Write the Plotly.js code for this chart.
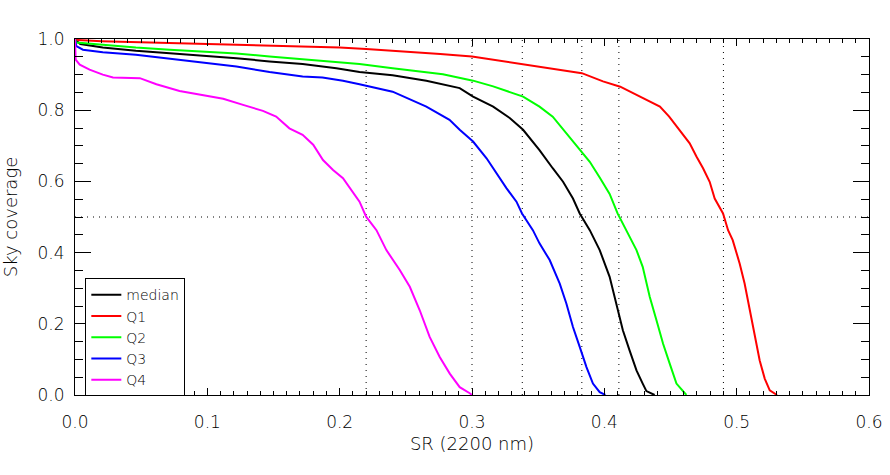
<!DOCTYPE html>
<html>
<head>
<meta charset="utf-8">
<script src="https://cdn.plot.ly/plotly-3.0.1.min.js"></script>
<style>
  body { margin: 0; background: #fff; }
  #plot { width: 890px; height: 475px; }
</style>
</head>
<body>
<div id="plot"></div>
<script>
// values
const seriesNames = ['median', 'Q1', 'Q2', 'Q3', 'Q4'];
const seriesColors = ['#000000', '#ff0000', '#00ff00', '#0000ff', '#ff00ff'];

const medianX = [0, 0.004, 0.021, 0.046, 0.0716, 0.097, 0.122, 0.147, 0.172, 0.1975, 0.215, 0.24, 0.2655, 0.2907, 0.3008, 0.316, 0.3285, 0.3386, 0.351, 0.361, 0.3688, 0.3763, 0.3814, 0.389, 0.3965, 0.404, 0.409, 0.414, 0.419, 0.4243, 0.429, 0.4318, 0.438];
const medianY = [0.998, 0.986, 0.976, 0.967, 0.960, 0.954, 0.946, 0.937, 0.930, 0.918, 0.907, 0.898, 0.883, 0.862, 0.838, 0.810, 0.778, 0.745, 0.688, 0.637, 0.599, 0.552, 0.510, 0.463, 0.407, 0.332, 0.257, 0.182, 0.126, 0.069, 0.032, 0.011, 0];

const q1X = [0, 0.002, 0.02, 0.06, 0.10, 0.14, 0.17, 0.20, 0.22, 0.25, 0.276, 0.30, 0.338, 0.366, 0.383, 0.399, 0.412, 0.427, 0.442, 0.449, 0.457, 0.4645, 0.4696, 0.4746, 0.4796, 0.4834, 0.4897, 0.4935, 0.497, 0.5023, 0.506, 0.510, 0.5136, 0.5174, 0.5212, 0.525, 0.5305];
const q1Y = [1.0, 0.997, 0.994, 0.990, 0.987, 0.984, 0.981, 0.976, 0.972, 0.965, 0.958, 0.951, 0.930, 0.913, 0.904, 0.881, 0.866, 0.838, 0.810, 0.782, 0.745, 0.707, 0.670, 0.637, 0.599, 0.552, 0.510, 0.463, 0.435, 0.369, 0.313, 0.238, 0.163, 0.097, 0.046, 0.013, 0];

const q2X = [0, 0.001, 0.021, 0.046, 0.0716, 0.097, 0.122, 0.147, 0.172, 0.1975, 0.215, 0.24, 0.278, 0.3008, 0.316, 0.3386, 0.351, 0.361, 0.3713, 0.3814, 0.389, 0.3965, 0.404, 0.410, 0.4167, 0.4243, 0.429, 0.4343, 0.4394, 0.4444, 0.4494, 0.4545, 0.462];
const q2Y = [1.0, 0.990, 0.984, 0.976, 0.970, 0.965, 0.959, 0.951, 0.944, 0.937, 0.930, 0.918, 0.901, 0.883, 0.867, 0.838, 0.810, 0.782, 0.735, 0.688, 0.655, 0.611, 0.565, 0.510, 0.463, 0.407, 0.360, 0.276, 0.210, 0.144, 0.088, 0.032, 0];

const q3X = [0, 0.001, 0.006, 0.021, 0.046, 0.0716, 0.097, 0.122, 0.147, 0.172, 0.187, 0.2025, 0.215, 0.24, 0.2655, 0.283, 0.2907, 0.3008, 0.311, 0.3184, 0.326, 0.3336, 0.3378, 0.346, 0.351, 0.3587, 0.3663, 0.3713, 0.3763, 0.3814, 0.3865, 0.3914, 0.3965, 0.4008];
const q3Y = [1.0, 0.980, 0.970, 0.963, 0.956, 0.945, 0.932, 0.923, 0.907, 0.895, 0.892, 0.883, 0.873, 0.852, 0.810, 0.773, 0.745, 0.712, 0.665, 0.623, 0.581, 0.543, 0.510, 0.463, 0.426, 0.379, 0.313, 0.257, 0.191, 0.135, 0.0785, 0.032, 0.008, 0];

const q4X = [0, 0.0005, 0.0036, 0.011, 0.021, 0.0287, 0.049, 0.0615, 0.079, 0.097, 0.112, 0.127, 0.142, 0.152, 0.162, 0.172, 0.180, 0.1874, 0.195, 0.2025, 0.210, 0.215, 0.220, 0.2278, 0.2353, 0.2454, 0.253, 0.2605, 0.268, 0.2756, 0.2832, 0.2907, 0.2983, 0.300];
const q4Y = [1.0, 0.942, 0.928, 0.914, 0.900, 0.892, 0.890, 0.873, 0.854, 0.843, 0.832, 0.815, 0.798, 0.782, 0.749, 0.731, 0.703, 0.660, 0.632, 0.609, 0.571, 0.543, 0.501, 0.463, 0.407, 0.351, 0.304, 0.238, 0.163, 0.107, 0.060, 0.022, 0.005, 0];

// dotted guide lines: where each curve crosses 0.5, plus the 0.5 level
const guideX = [0.22, 0.30, 0.338, 0.383, 0.411, 0.49];
const guideY = [0.5];

const allX = [medianX, q1X, q2X, q3X, q4X];
const allY = [medianY, q1Y, q2Y, q3Y, q4Y];

let traces = [];
for (let i = 0; i < seriesNames.length; i++) {
  traces.push({
    x: allX[i],
    y: allY[i],
    name: seriesNames[i],
    type: 'scatter',
    mode: 'lines',
    line: {color: seriesColors[i], width: 2}
  });
}

let shapes = [];
for (let i = 0; i < guideX.length; i++) {
  shapes.push({
    type: 'line', xref: 'x', yref: 'y',
    x0: guideX[i], x1: guideX[i], y0: 0, y1: 1,
    line: {color: '#000', width: 1, dash: '1px,5px'},
    layer: 'below'
  });
}
for (let j = 0; j < guideY.length; j++) {
  shapes.push({
    type: 'line', xref: 'x', yref: 'y',
    x0: 0, x1: 0.6, y0: guideY[j], y1: guideY[j],
    line: {color: '#000', width: 1, dash: '1px,5px'},
    layer: 'below'
  });
}

const font = 'DejaVu Sans, sans-serif';

var layout = {
  width: 890,
  height: 475,
  margin: {l: 75, r: 21, t: 39, b: 80},
  paper_bgcolor: '#fff',
  plot_bgcolor: '#fff',
  font: {family: font, size: 17, color: '#000', weight: 200},
  showlegend: true,
  legend: {
    x: 0.013, y: 0.328, xanchor: 'left', yanchor: 'top',
    bgcolor: '#fff', bordercolor: '#000', borderwidth: 1,
    font: {family: font, size: 14, color: '#000', weight: 200},
    tracegroupgap: 0
  },
  xaxis: {
    range: [0, 0.6],
    dtick: 0.1,
    tick0: 0,
    tickformat: '.1f',
    ticks: 'inside',
    ticklen: 7,
    tickcolor: '#000',
    showline: true,
    linecolor: '#000',
    linewidth: 1,
    mirror: 'allticks',
    showgrid: false,
    zeroline: false,
    ticklabelstandoff: 12,
    minor: {dtick: 0.01, ticks: 'inside', ticklen: 4, tickcolor: '#000', showgrid: false},
    title: {text: 'SR (2200 nm)', font: {family: font, size: 18, weight: 200}, standoff: 5}
  },
  yaxis: {
    range: [0, 1],
    dtick: 0.2,
    tick0: 0,
    tickformat: '.1f',
    ticks: 'inside',
    ticklen: 16,
    tickcolor: '#000',
    showline: true,
    linecolor: '#000',
    linewidth: 1,
    mirror: 'allticks',
    showgrid: false,
    zeroline: false,
    ticklabelstandoff: 6,
    minor: {dtick: 0.05, ticks: 'inside', ticklen: 8, tickcolor: '#000', showgrid: false},
    title: {text: 'Sky coverage', font: {family: font, size: 18, weight: 200}, standoff: 16}
  },
  shapes: shapes
};

Plotly.newPlot('plot', traces, layout, {displayModeBar: false, staticPlot: true});
</script>
</body>
</html>
